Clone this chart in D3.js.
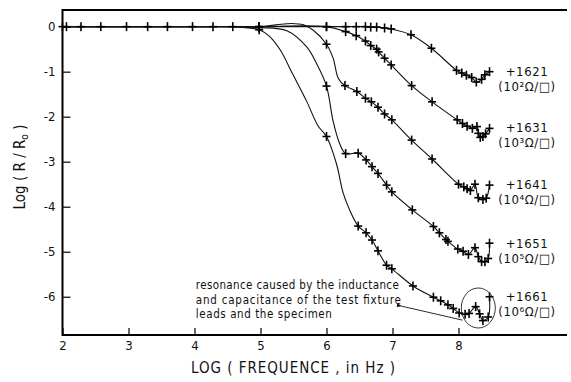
<!DOCTYPE html>
<html>
<head>
<meta charset="utf-8">
<script src="https://cdn.jsdelivr.net/npm/d3@7"></script>
<style>
  body { margin: 0; background: #fff; }
  svg { display: block; }
  text { font-family: "Liberation Sans Narrow", "DejaVu Sans Condensed", "Liberation Sans", sans-serif; fill: #111; }
</style>
</head>
<body>
<div id="chart"></div>
<script>
// low-frequency points shared by all five specimens (flat at 0)
const lowX = [2.0, 2.06, 2.28, 2.58, 2.97, 3.29, 3.59, 3.97, 4.28, 4.58];
const lowY = [0, 0, 0, 0, 0, 0, 0, 0, 0, 0];

// measured points (drawn with a cross) per specimen
const x1621 = [4.98, 6.0, 6.29, 6.45, 6.59, 6.67, 6.76, 6.88, 6.98, 7.28, 7.59, 7.97, 8.05, 8.12, 8.2, 8.27, 8.35, 8.4, 8.47];
const y1621 = [0, 0, 0, 0, 0, -0.01, -0.01, -0.03, -0.05, -0.18, -0.48, -0.97, -1.03, -1.08, -1.13, -1.23, -1.17, -1.07, -1.0];

const x1631 = [4.98, 6.0, 6.29, 6.45, 6.59, 6.67, 6.76, 6.79, 6.88, 6.98, 7.29, 7.6, 7.98, 8.06, 8.13, 8.21, 8.28, 8.3, 8.33, 8.37, 8.41, 8.47];
const y1631 = [0, 0, -0.11, -0.2, -0.32, -0.42, -0.5, -0.56, -0.7, -0.85, -1.31, -1.67, -2.07, -2.15, -2.21, -2.26, -2.22, -2.37, -2.46, -2.44, -2.38, -2.26];

const x1641 = [4.98, 6.0, 6.28, 6.46, 6.59, 6.68, 6.78, 6.88, 6.99, 7.29, 7.6, 8.0, 8.08, 8.13, 8.18, 8.25, 8.3, 8.37, 8.42, 8.47];
const y1641 = [0, -0.39, -1.31, -1.44, -1.59, -1.67, -1.79, -1.94, -2.07, -2.52, -2.94, -3.5, -3.56, -3.6, -3.64, -3.5, -3.8, -3.84, -3.81, -3.52];

const x1651 = [4.98, 6.0, 6.29, 6.48, 6.6, 6.69, 6.78, 6.91, 6.99, 7.3, 7.62, 7.71, 7.81, 7.84, 7.99, 8.07, 8.15, 8.25, 8.3, 8.35, 8.4, 8.45, 8.47];
const y1651 = [-0.02, -1.32, -2.82, -2.81, -2.96, -3.11, -3.26, -3.52, -3.67, -4.07, -4.44, -4.58, -4.73, -4.77, -4.94, -4.99, -5.06, -4.91, -5.11, -5.22, -5.22, -5.15, -4.81];

const x1661 = [4.98, 6.0, 6.48, 6.6, 6.69, 6.78, 6.91, 6.99, 7.31, 7.62, 7.73, 7.84, 7.92, 8.01, 8.1, 8.16, 8.26, 8.32, 8.37, 8.45, 8.47];
const y1661 = [-0.07, -2.44, -4.43, -4.58, -4.74, -4.98, -5.3, -5.38, -5.76, -6.01, -6.09, -6.18, -6.26, -6.36, -6.39, -6.37, -6.22, -6.38, -6.53, -6.45, -6.0];

// unmarked points
const gx1641 = [5.24, 5.47, 5.65, 5.8, 6.1, 6.18];
const gy1641 = [0.04, 0.07, 0.04, -0.08, -0.7, -1.15];
const gx1651 = [5.4, 5.7, 5.85, 6.1, 6.2];
const gy1651 = [-0.09, -0.45, -0.82, -2.1, -2.6];
const gx1661 = [5.14, 5.3, 5.49, 5.7, 5.87, 6.15, 6.25, 6.35];
const gy1661 = [-0.22, -0.52, -1.06, -1.66, -2.2, -3.04, -3.68, -4.07];

const specimens = ["+1621", "+1631", "+1641", "+1651", "+1661"];
const sheetRes = ["(10²Ω/□)", "(10³Ω/□)", "(10⁴Ω/□)", "(10⁵Ω/□)", "(10⁶Ω/□)"];

const xTicks = [2, 3, 4, 5, 6, 7, 8];
const yTicks = [0, -1, -2, -3, -4, -5, -6];

const note = ["resonance caused by the inductance", "and capacitance of the test fixture", "leads and the specimen"];

const svgWidth = 571;
const svgHeight = 382;

const svg = d3.select("#chart").append("svg")
  .attr("width", svgWidth)
  .attr("height", svgHeight);

const x = d3.scaleLinear().domain([2, 9.644]).range([62.5, 567]);
const y = d3.scaleLinear().domain([-6.85, 0.37]).range([335, 10]);

const zip = (xs, ys) => xs.map((v, i) => ({ x: v, y: ys[i] }));

const series = [
  { marks: zip(x1621, y1621), guide: [] },
  { marks: zip(x1631, y1631), guide: [] },
  { marks: zip(x1641, y1641), guide: zip(gx1641, gy1641) },
  { marks: zip(x1651, y1651), guide: zip(gx1651, gy1651) },
  { marks: zip(x1661, y1661), guide: zip(gx1661, gy1661) },
];
const low = zip(lowX, lowY);

const line = d3.line()
  .x(d => x(d.x))
  .y(d => y(d.y))
  .curve(d3.curveCatmullRom.alpha(0.5));

// curves
series.forEach(s => {
  const pts = low.concat(s.marks, s.guide).sort((a, b) => a.x - b.x);
  svg.append("path")
    .attr("d", line(pts))
    .attr("fill", "none")
    .attr("stroke", "#111")
    .attr("stroke-width", 1.1);
});

// cross markers
const allMarks = low.concat(...series.map(s => s.marks));
const mk = svg.append("g").attr("stroke", "#000").attr("stroke-width", 1.6);
allMarks.forEach(d => {
  const cx = x(d.x), cy = y(d.y);
  mk.append("line").attr("x1", cx - 4).attr("x2", cx + 4).attr("y1", cy).attr("y2", cy);
  mk.append("line").attr("x1", cx).attr("x2", cx).attr("y1", cy - 4.5).attr("y2", cy + 4.5);
});

// frame: top, left, bottom
svg.append("path")
  .attr("d", `M${x(9.644)},${y(0.37)}H${x(2)}V${y(-6.85)}H${x(9.644)}`)
  .attr("fill", "none")
  .attr("stroke", "#000")
  .attr("stroke-width", 2);

// axes
const xAxis = svg.append("g")
  .attr("transform", `translate(0,${y(-6.85)})`)
  .call(d3.axisBottom(x).tickValues(xTicks).tickSize(-7).tickPadding(6).tickFormat(d3.format("d")));
xAxis.select(".domain").remove();
xAxis.selectAll("line").attr("stroke", "#000").attr("stroke-width", 1.2);
xAxis.selectAll("text").attr("font-size", 13).attr("font-family", null);

const yAxis = svg.append("g")
  .attr("transform", `translate(${x(2)},0)`)
  .call(d3.axisLeft(y).tickValues(yTicks).tickSize(-8).tickPadding(7).tickFormat(d => d === 0 ? "0" : "-" + Math.abs(d)));
yAxis.select(".domain").remove();
yAxis.selectAll("line").attr("stroke", "#000").attr("stroke-width", 1.2);
yAxis.selectAll("text").attr("font-size", 13).attr("font-family", null);

// axis titles
svg.append("text")
  .attr("x", 293)
  .attr("y", 373)
  .attr("text-anchor", "middle")
  .attr("font-size", 15)
  .attr("textLength", 204)
  .attr("lengthAdjust", "spacing")
  .text("LOG ( FREQUENCE , in Hz )");

const yt = svg.append("text")
  .attr("transform", "translate(25,167) rotate(-90)")
  .attr("text-anchor", "middle")
  .attr("font-size", 15);
yt.append("tspan").text("Log ( R / R");
yt.append("tspan").attr("font-size", 10).attr("dy", 3).text("o");
yt.append("tspan").attr("dy", -3).text(" )");

// specimen labels
const labelY = [-1.0, -2.26, -3.52, -4.82, -6.0];
specimens.forEach((s, i) => {
  svg.append("text")
    .attr("x", 527)
    .attr("y", y(labelY[i]) + 4)
    .attr("text-anchor", "middle")
    .attr("font-size", 13)
    .attr("letter-spacing", 0.6)
    .text(s);
  svg.append("text")
    .attr("x", 527)
    .attr("y", y(labelY[i]) + 19)
    .attr("text-anchor", "middle")
    .attr("font-size", 13)
    .attr("letter-spacing", 0.6)
    .text(sheetRes[i]);
});

// resonance annotation
note.forEach((t, i) => {
  svg.append("text")
    .attr("x", x(4.02))
    .attr("y", 289 + i * 14.5)
    .attr("font-size", 11.5)
    .attr("font-family", "'DejaVu Sans', sans-serif")
    .attr("textLength", [203, 205, 136][i])
    .attr("lengthAdjust", "spacing")
    .text(t);
});

svg.append("ellipse")
  .attr("cx", x(8.3))
  .attr("cy", y(-6.25))
  .attr("rx", 17)
  .attr("ry", 20)
  .attr("fill", "none")
  .attr("stroke", "#222")
  .attr("stroke-width", 0.9);

svg.append("defs").append("marker")
  .attr("id", "arr")
  .attr("viewBox", "0 0 10 10")
  .attr("refX", 1).attr("refY", 5)
  .attr("markerWidth", 9).attr("markerHeight", 6)
  .attr("orient", "auto-start-reverse")
  .append("path").attr("d", "M0,5L10,1.5L10,8.5Z").attr("fill", "#111");

svg.append("line")
  .attr("x1", x(8.06)).attr("y1", y(-6.52))
  .attr("x2", x(7.14)).attr("y2", y(-6.21))
  .attr("stroke", "#111")
  .attr("stroke-width", 0.9)
  .attr("marker-end", "url(#arr)");
</script>
</body>
</html>
